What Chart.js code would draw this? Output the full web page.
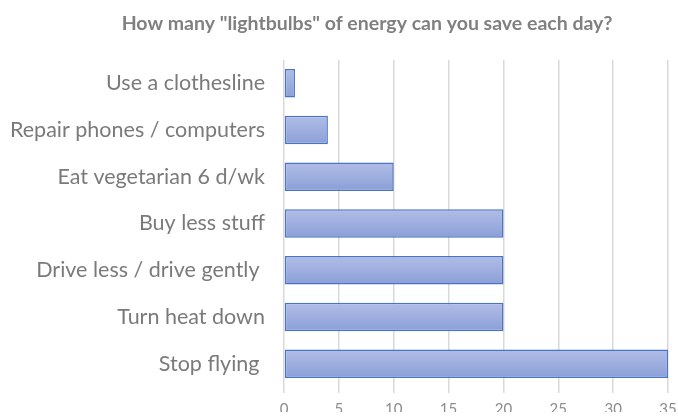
<!DOCTYPE html>
<html>
<head>
<meta charset="utf-8">
<script src="https://cdn.jsdelivr.net/npm/chart.js@4"></script>
<style>
  html, body { margin: 0; padding: 0; background: #fff; overflow: hidden; }
  #wrap { width: 678px; height: 419px; }
</style>
</head>
<body>
<div id="wrap"><canvas id="chart"></canvas></div>
<script>
const titleText = 'How many "lightbulbs" of energy can you save each day?'
const categories = [
  "Use a clothesline",
  "Repair phones / computers",
  "Eat vegetarian 6 d/wk",
  "Buy less stuff",
  "Drive less / drive gently ",
  "Turn heat down",
  "Stop flying "
]
const lightbulbs = [1, 4, 10, 20, 20, 20, 35]
const xTicks = [0, 5, 10, 15, 20, 25, 30, 35]

const CAT_PCT = 0.61

// vertical gradient for each bar, worked out from its own category band
function barFill(context) {
  const chart = context.chart
  const yScale = chart.scales.y
  if (!yScale || context.dataIndex === undefined) return "#9eaedf"
  const band = yScale.height / categories.length
  const centre = yScale.getPixelForValue(context.dataIndex)
  const half = band * CAT_PCT / 2
  if (!isFinite(centre) || !isFinite(half) || half <= 0) return "#9eaedf"
  const g = chart.ctx.createLinearGradient(0, centre - half, 0, centre + half)
  g.addColorStop(0, "#b0bde6")
  g.addColorStop(1, "#8b9fd7")
  return g
}

// title sits a bit right of centre, like the original
const sideTitle = {
  id: "sideTitle",
  afterDraw(chart) {
    const ctx = chart.ctx
    ctx.save()
    ctx.font = "bold 19.5px Lato"
    ctx.fillStyle = "#808080"
    ctx.textAlign = "center"
    ctx.textBaseline = "middle"
    ctx.fillText(titleText, 367, 24)
    ctx.restore()
  }
}

new Chart(document.getElementById("chart"), {
  type: "bar",
  data: {
    labels: categories,
    datasets: [{
      data: lightbulbs,
      backgroundColor: barFill,
      borderColor: "#4a74c6",
      borderWidth: 1.5,
      borderSkipped: false,
      categoryPercentage: CAT_PCT,
      barPercentage: 1
    }]
  },
  options: {
    indexAxis: "y",
    responsive: true,
    maintainAspectRatio: false,
    animation: false,
    layout: { padding: { top: 60, right: 0, bottom: 0, left: 0 } },
    plugins: {
      legend: { display: false },
      title: { display: false },
      tooltip: { enabled: false }
    },
    scales: {
      x: {
        min: 0,
        max: 35,
        afterBuildTicks: axis => { axis.ticks = xTicks.map(v => ({ value: v })) },
        // fixed axis box so the plot lands where the original one is
        afterFit: axis => {
          axis.height = 25
          axis.paddingLeft = 0
          axis.paddingRight = 10
        },
        grid: { color: "#d9d9d9", lineWidth: 1.5, tickLength: 6 },
        border: { display: false },
        ticks: { color: "#8c8c8c", font: { family: "Lato", size: 15 }, padding: 7 }
      },
      y: {
        afterFit: axis => { axis.width = 284 },
        grid: { display: false, drawTicks: false },
        border: { display: false },
        ticks: { color: "#7a7a7a", font: { family: "Lato", size: 21.5 }, padding: 19 }
      }
    }
  },
  plugins: [sideTitle]
})
</script>
</body>
</html>
